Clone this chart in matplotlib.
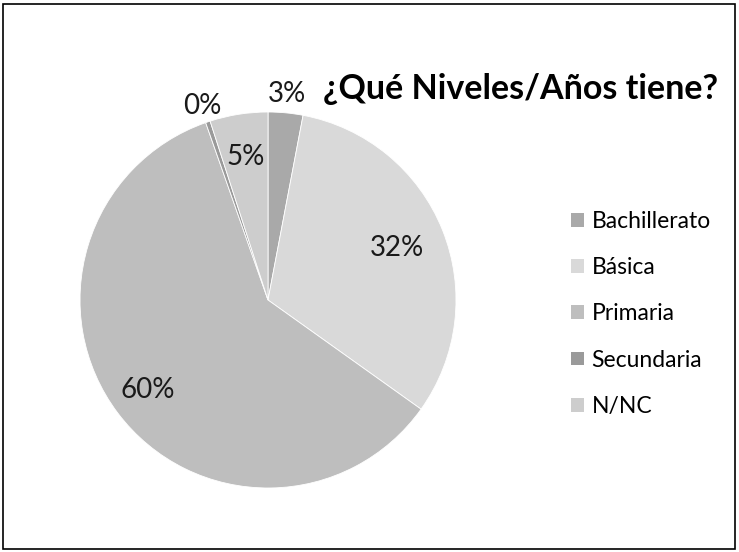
import matplotlib.pyplot as plt
import numpy as np
from matplotlib.patches import Rectangle

plt.rcParams['font.family'] = ['Lato', 'DejaVu Sans']

categories = ['Bachillerato', 'Básica', 'Primaria', 'Secundaria', 'N/NC']
values = [3, 32, 60, 0.4, 5]
colors = ['#a9a9a9', '#d9d9d9', '#bebebe', '#9a9a9a', '#cdcdcd']
# distance of each percentage label from the centre (radius units)
label_dist = [1.10, 0.74, 0.80, 1.09, 0.77]
title = '¿Qué Niveles/Años tiene?'


def main():
    fig = plt.figure(figsize=(7.39, 5.52), dpi=100)
    W, H = 739, 552
    cx, cy, r = 268, 300, 188
    ax = fig.add_axes([(cx - r) / W, 1 - (cy + r) / H, 2 * r / W, 2 * r / H])

    wedges, _ = ax.pie(values, colors=colors, startangle=90, counterclock=False,
                       wedgeprops=dict(edgecolor='white', linewidth=0.6))
    ax.set_xlim(-1, 1); ax.set_ylim(-1, 1)
    ax.set_aspect('equal')

    total = sum(values)
    for w, v, d in zip(wedges, values, label_dist):
        ang = np.deg2rad((w.theta1 + w.theta2) / 2)
        ax.text(d * np.cos(ang), d * np.sin(ang), f'{v / total * 100:.0f}%',
                ha='center', va='center', fontsize=20, color='#1a1a1a')

    fig.text(521 / W, 1 - 89 / H, title, ha='center', va='center',
             fontsize=24.5, fontweight='bold')

    handles = [Rectangle((0, 0), 1, 1, facecolor=c, edgecolor='none') for c in colors]
    fig.legend(handles, categories, loc='upper left', bbox_to_anchor=(571 / W, 1 - 211 / H),
               frameon=False, fontsize=16.5, handlelength=0.55, handleheight=0.55,
               handletextpad=0.35, labelspacing=1.1, borderaxespad=0, borderpad=0)

    fig.patches.append(Rectangle((3 / W, 3 / H), 732 / W, 545 / H, transform=fig.transFigure,
                                 fill=False, edgecolor='black', linewidth=1.2))

    fig.savefig('out.png', dpi=100)


if __name__ == '__main__':
    main()
